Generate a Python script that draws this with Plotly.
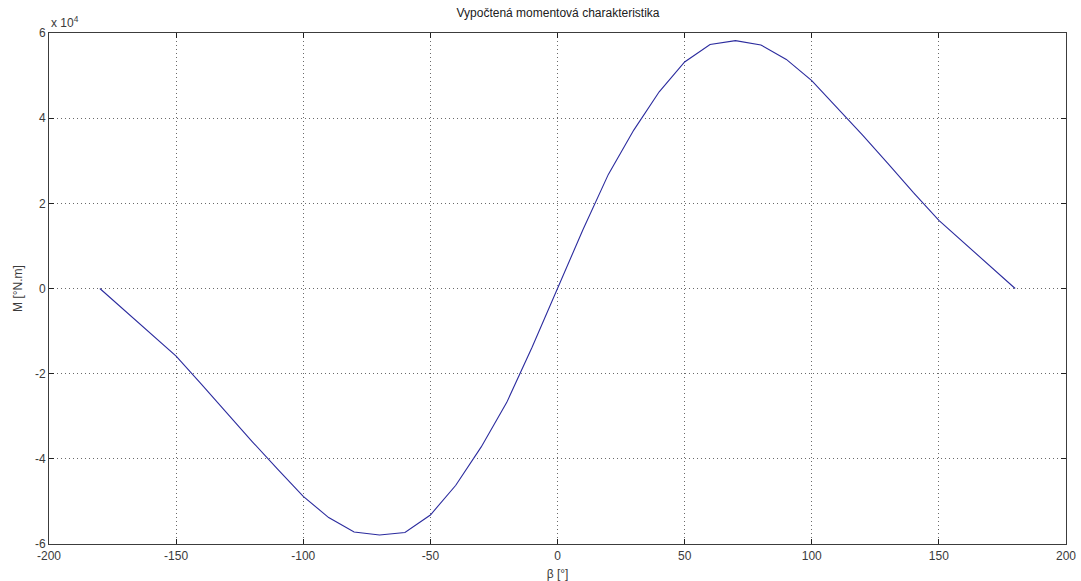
import plotly.graph_objects as go

# Data (beta in degrees, M in N.m)
beta = [-180, -170, -160, -150, -140, -130, -120, -110, -100, -90, -80, -70, -60, -50, -40,
        -30, -20, -10, 0, 10, 20, 30, 40, 50, 60, 70, 80, 90, 100, 110, 120, 130, 140, 150,
        160, 170, 180]
moment = [0, -5300, -10700, -15900, -22500, -29300, -36000, -42500, -48800, -53800, -57200,
          -57900, -57300, -53200, -46200, -37200, -26800, -13800, 0, 13800, 26800, 37200,
          46200, 53200, 57300, 58200, 57200, 53800, 48800, 42500, 36000, 29300, 22500, 16000,
          10700, 5300, 0]

x_ticks = [-200, -150, -100, -50, 0, 50, 100, 150, 200]
y_tickvals = [-60000, -40000, -20000, 0, 20000, 40000, 60000]
y_ticktext = ["-6", "-4", "-2", "0", "2", "4", "6"]

font_family = "Liberation Sans, Arial, sans-serif"
axis_color = "#3c3c3c"

fig = go.Figure()
fig.add_trace(go.Scatter(x=beta, y=moment, mode="lines",
                         line=dict(color="#2b2b9e", width=1.1), showlegend=False,
                         hoverinfo="skip"))

common = dict(showline=True, linecolor=axis_color, linewidth=1, mirror="ticks",
              ticks="inside", ticklen=5, tickcolor="#202020", tickwidth=1,
              showgrid=True, gridcolor="#6a6a6a", griddash="1px,3px", gridwidth=1,
              zeroline=False, automargin=False,
              tickfont=dict(family=font_family, size=12, color="#3a3a3a"))

fig.update_xaxes(range=[-200, 200], tickvals=x_ticks, ticktext=[str(v) for v in x_ticks],
                 ticklabelstandoff=1,
                 title=dict(text="β [°]", font=dict(family=font_family, size=12, color="#3a3a3a"),
                            standoff=7),
                 **common)
fig.update_yaxes(range=[-60000, 60000], tickvals=y_tickvals, ticktext=y_ticktext,
                 title=dict(text="M [°N.m]", font=dict(family=font_family, size=12, color="#3a3a3a"),
                            standoff=9),
                 **common)

fig.update_layout(
    width=1081, height=581,
    margin=dict(l=49, r=15, t=33, b=37),
    paper_bgcolor="white", plot_bgcolor="white",
    title=dict(text="Vypočtená momentová charakteristika", x=0.5162, xanchor="center",
               y=0.985, yanchor="top",
               font=dict(family=font_family, size=12, color="#202020")),
    annotations=[dict(text="x 10<sup>4</sup>", xref="paper", yref="paper", x=0.0, y=1.0,
                      xanchor="left", yanchor="bottom", showarrow=False, yshift=1,
                      font=dict(family=font_family, size=12, color="#3a3a3a"))],
)

fig.write_html("out.html")
